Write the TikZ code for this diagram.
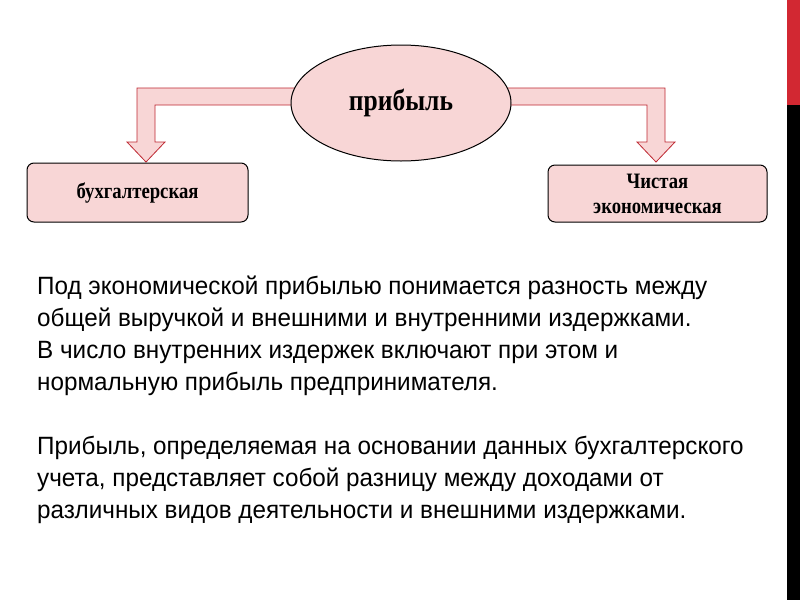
\documentclass[tikz,border=0pt]{standalone}
\usepackage{fontspec}
\setmainfont{Liberation Serif}
\newfontfamily\boxfont{Liberation Serif}[FakeStretch=0.85]
\newfontfamily\bodyfont{Liberation Sans}[FakeStretch=0.97]
\usetikzlibrary{shapes.geometric}
\definecolor{pinkfill}{RGB}{248,214,214}
\definecolor{arrowedge}{RGB}{190,40,50}
\definecolor{barred}{RGB}{210,40,50}
\begin{document}
\begin{tikzpicture}[x=1pt,y=-1pt,
  box/.style={draw=black,line width=1pt,fill=pinkfill,rounded corners=7pt,align=center,font=\boxfont\bfseries\fontsize{22}{25}\selectfont},
  arr/.style={draw=arrowedge,line width=0.8pt,fill=pinkfill},
  bodytxt/.style={anchor=north west,align=left,inner sep=0pt,font=\bodyfont\fontsize{25}{32}\selectfont}]
\useasboundingbox (0,0) rectangle (800,600);
\fill[white] (0,0) rectangle (800,600);
\fill[barred] (787,0) rectangle (800,105);
\fill[black] (787,105) rectangle (800,600);
\draw[arr] (300,88) -- (137,88) -- (137,142) -- (127,142) -- (146,162) -- (165,142) -- (155,142) -- (155,105) -- (300,105);
\draw[arr] (500,88) -- (665,88) -- (665,142) -- (675,142) -- (656,162) -- (637,142) -- (647,142) -- (647,105) -- (500,105);
\node[ellipse,draw=black,line width=1pt,fill=pinkfill,minimum width=220pt,minimum height=116pt,inner sep=0pt,font=\boxfont\bfseries\fontsize{30}{34}\selectfont] (p) at (401,103) {прибыль};
\node[box,minimum width=221pt,minimum height=59pt,inner sep=0pt] (b) at (137.5,192.5) {бухгалтерская};
\node[box,minimum width=219pt,minimum height=57pt,inner sep=0pt] (c) at (657.5,193.5) {Чистая\\экономическая};
\node[bodytxt] (t1) at (37,276) {Под экономической прибылью понимается разность между\\общей выручкой и внешними и внутренними издержками.\\В число внутренних издержек включают при этом и\\нормальную прибыль предпринимателя.};
\node[bodytxt] (t2) at (37,436) {Прибыль, определяемая на основании данных бухгалтерского\\учета, представляет собой разницу между доходами от\\различных видов деятельности и внешними издержками.};
\end{tikzpicture}
\end{document}
